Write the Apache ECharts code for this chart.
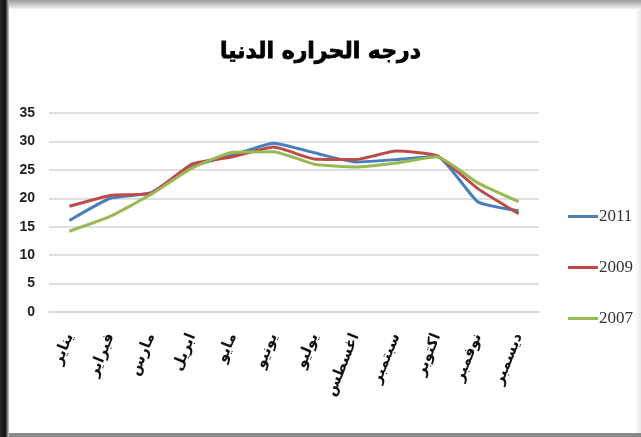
<!DOCTYPE html>
<html>
<head>
<meta charset="utf-8">
<script src="https://cdn.jsdelivr.net/npm/echarts@6/dist/echarts.min.js"></script>
<style>
html,body{margin:0;padding:0;background:#fff;}
#c{width:641px;height:437px;}
</style>
</head>
<body>
<div id="c"></div>
<script>
var titleText = 'درجه الحراره الدنيا';
var months = ['يناير','فبراير','مارس','ابريل','مايو','يونيو','يوليو','اغسطس','سبتمبر','اكتوبر','نوفمبر','ديسمبر'];
var yTicks = [0,5,10,15,20,25,30,35];
var seriesNames = ['2011','2009','2007'];
var v2011 = [16.1, 20.0, 21.0, 25.6, 27.6, 29.7, 28.0, 26.4, 26.8, 27.4, 19.4, 17.8];
var v2009 = [18.6, 20.5, 20.9, 26.0, 27.3, 29.0, 26.9, 26.8, 28.3, 27.5, 21.7, 17.3];
var v2007 = [14.2, 16.8, 20.7, 25.3, 28.1, 28.2, 26.0, 25.5, 26.2, 27.3, 22.7, 19.4];
var colors = ['#4a7ebb','#be4b48','#98b954'];

var chart = echarts.init(document.getElementById('c'), null, {renderer:'canvas'});
var data = [v2011, v2009, v2007];
chart.setOption({
  animation:false,
  backgroundColor:'#ffffff',
  title:{
    text:titleText, left:'center', top:36,
    textStyle:{fontFamily:'DejaVu Sans', fontWeight:'bold', fontSize:22, color:'#000',
      textBorderColor:'#000', textBorderWidth:0.8}
  },
  graphic:[
    {type:'rect', shape:{x:0,y:0,width:641,height:9}, style:{fill:new echarts.graphic.LinearGradient(0,0,0,1,[{offset:0,color:'#9a9a9a'},{offset:1,color:'#f4f4f4'}])}, z:100},
    {type:'rect', shape:{x:0,y:0,width:9,height:437}, style:{fill:new echarts.graphic.LinearGradient(0,0,1,0,[{offset:0,color:'#2a2a2a'},{offset:0.6,color:'#111'},{offset:1,color:'#cfcfcf'}])}, z:101},
    {type:'rect', shape:{x:0,y:433,width:641,height:4}, style:{fill:'#8a8a8a'}, z:100},
    {type:'rect', shape:{x:634,y:9,width:7,height:424}, style:{fill:new echarts.graphic.LinearGradient(0,0,1,0,[{offset:0,color:'#ffffff'},{offset:1,color:'#ebebeb'}])}, z:-1}
  ],
  legend:{
    orient:'vertical', left:563, top:203, itemGap:34, itemWidth:30, itemHeight:14,
    data:seriesNames.map(function(n,i){return {name:n, icon:'path://M0,6 L30,6 L30,9 L0,9 Z'};}),
    textStyle:{fontFamily:'Liberation Serif', fontSize:17, color:'#333', padding:[0,0,0,-4]}
  },
  grid:{left:49, right:102, top:113, bottom:125},
  xAxis:{
    type:'category', data:months, boundaryGap:true,
    axisLine:{show:true, lineStyle:{color:'#d4d4d4', width:1.5}},
    axisTick:{show:false},
    axisLabel:{rotate:68, margin:22, interval:0, fontFamily:'DejaVu Sans', fontWeight:'bold', fontSize:15, color:'#111'}
  },
  yAxis:{
    type:'value', min:0, max:35, interval:5,
    axisLine:{show:false}, axisTick:{show:false},
    splitLine:{lineStyle:{color:'#d4d4d4', width:1.5}},
    axisLabel:{margin:14, fontFamily:'Liberation Sans', fontWeight:'bold', fontSize:14, color:'#222',
      formatter:function(v){return yTicks.indexOf(v)>=0 ? String(v) : '';}}
  },
  series:seriesNames.map(function(n,i){
    return {name:n, type:'line', data:data[i], showSymbol:false, symbol:'none', smooth:0.15,
      lineStyle:{color:colors[i], width:3}, itemStyle:{color:colors[i]}};
  })
});
</script>
</body>
</html>
